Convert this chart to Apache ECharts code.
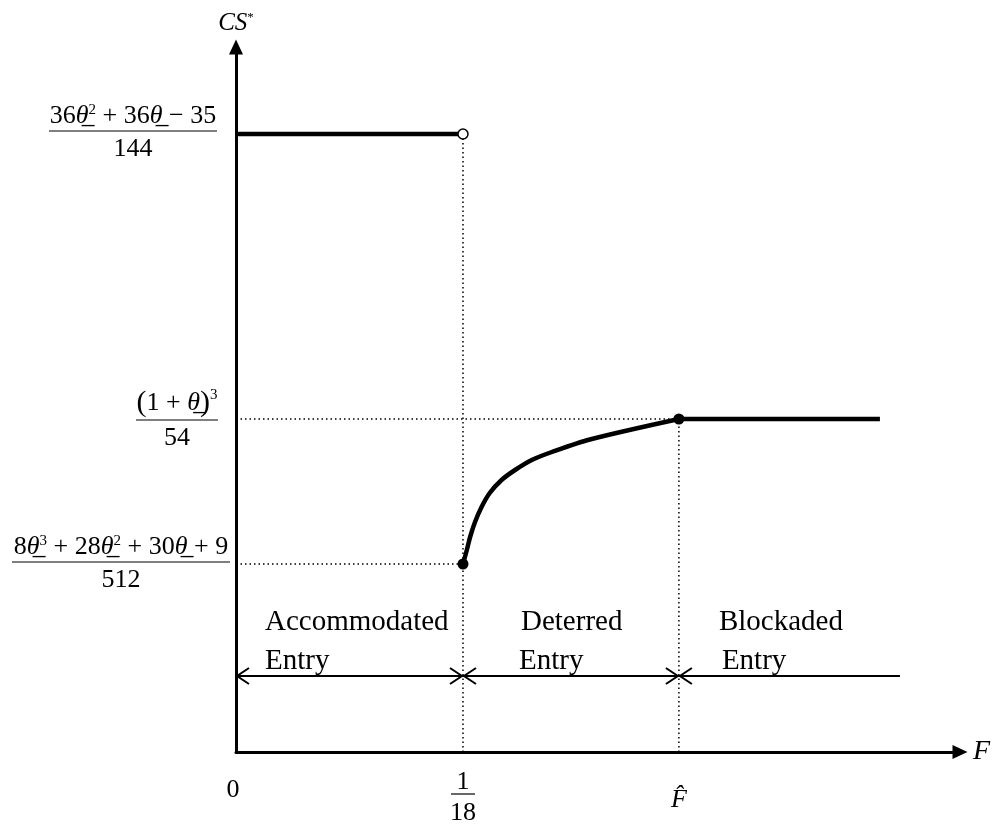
<!DOCTYPE html>
<html><head><meta charset="utf-8">
<script src="https://cdn.jsdelivr.net/npm/echarts@6/dist/echarts.min.js"></script>
<style>html,body{margin:0;padding:0;background:#fff}#c{width:994px;height:829px}</style>
</head><body><div id="c"></div>
<script>
// ---- data (schematic values) ----
const F_ACC = 1 / 18;          // threshold 1/18
const F_HAT = 0.1084;          // F-hat
const F_END = 0.1576;          // end of blockaded segment
const F_ARROW_END = 0.1625;    // end of blockaded region arrow
const CS_HIGH = 0.618;         // (36θ²+36θ−35)/144
const CS_BLOCK = 0.333;        // (1+θ)³/54
const CS_LOW = 0.188;          // (8θ³+28θ²+30θ+9)/512
const curveF  = [F_ACC, 0.0565, 0.0573, 0.0585, 0.0601, 0.0621, 0.0650, 0.0683, 0.0724, 0.0773, 0.0866, F_HAT];
const curveCS = [CS_LOW, 0.202, 0.215, 0.230, 0.245, 0.259, 0.272, 0.282, 0.292, 0.300, 0.3125, CS_BLOCK];
const yLabelValues = [CS_HIGH, CS_BLOCK, CS_LOW];
const yLabelNumerators = [
  '36{it|θ\u0332}{sup|2} + 36{it|θ\u0332} − 35',
  '{par|(}1 + {it|θ\u0332}{par|)}{sup|3}',
  '8{it|θ\u0332}{sup|3} + 28{it|θ\u0332}{sup|2} + 30{it|θ\u0332} + 9'
];
const yLabelDenominators = ['144', '54', '512'];
const xTickValues = [0, F_ACC, F_HAT];
const xTickNumerators = ['0', '1', '{it|F\u0302}'];
const xTickDenominators = ['', '18', ''];
const regionStarts = [0, F_ACC, F_HAT];
const regionEnds = [F_ACC, F_HAT, F_ARROW_END];
const regionNames = ['Accommodated', 'Deterred', 'Blockaded'];
const regionSub = ['Entry', 'Entry', 'Entry'];
const REGION_ARROW_CS = 0.076;

// ---- layout / style ----
const SERIF = '"Liberation Serif", "Times New Roman", serif';
const rich = {
  it:  { fontFamily: SERIF, fontSize: 26, fontStyle: 'italic', fill: '#000', color: '#000' },
  sup: { fontFamily: SERIF, fontSize: 15, verticalAlign: 'top', fill: '#000', color: '#000' },
  par: { fontFamily: SERIF, fontSize: 30, fill: '#000', color: '#000' }
};
const yLabelLayout = [ {gap: 19, width: 168, dy: -3}, {gap: 18, width: 82, dy: 1}, {gap: 6, width: 218, dy: -2} ];
const regionTextOffset = [ {a: 29, b: 29}, {a: 58, b: 56}, {a: 40, b: 43} ];

const chart = echarts.init(document.getElementById('c'), null, {renderer: 'canvas'});

function renderYLabel(params, api) {
  const i = params.dataIndex;
  const p = api.coord([0, api.value(1)]);
  const L = yLabelLayout[i];
  const right = p[0] - L.gap;
  const cx = right - L.width / 2;
  const by = p[1] + L.dy;
  return { type: 'group', children: [
    { type: 'line', shape: {x1: right - L.width, y1: by, x2: right, y2: by}, style: {stroke: '#000', lineWidth: 1.2} },
    { type: 'text', style: { text: yLabelNumerators[i], rich: rich, x: cx, y: by - 2, align: 'center', verticalAlign: 'bottom',
        fontFamily: SERIF, fontSize: 26, fill: '#000' } },
    { type: 'text', style: { text: yLabelDenominators[i], x: cx, y: by + 5, align: 'center', verticalAlign: 'top',
        fontFamily: SERIF, fontSize: 26, fill: '#000' } }
  ]};
}

function renderXLabel(params, api) {
  const i = params.dataIndex;
  const p = api.coord([api.value(0), 0]);
  const children = [];
  if (xTickDenominators[i]) {
    const by = p[1] + 42;
    children.push({ type: 'line', shape: {x1: p[0] - 12, y1: by, x2: p[0] + 12, y2: by}, style: {stroke: '#000', lineWidth: 1.2} });
    children.push({ type: 'text', style: { text: xTickNumerators[i], x: p[0], y: by + 1, align: 'center', verticalAlign: 'bottom', fontFamily: SERIF, fontSize: 26, fill: '#000' } });
    children.push({ type: 'text', style: { text: xTickDenominators[i], x: p[0], y: by + 6, align: 'center', verticalAlign: 'top', fontFamily: SERIF, fontSize: 26, fill: '#000' } });
  } else {
    children.push({ type: 'text', style: { text: xTickNumerators[i], rich: rich, x: p[0] - (i === 0 ? 3 : 0), y: p[1] + (i === 0 ? 38 : 48), align: 'center', verticalAlign: 'middle', fontFamily: SERIF, fontSize: 26, fill: '#000' } });
  }
  return { type: 'group', children: children };
}

function renderRegion(params, api) {
  const i = params.dataIndex;
  const a = api.coord([api.value(0), REGION_ARROW_CS]);
  const b = api.coord([api.value(1), REGION_ARROW_CS]);
  const y = a[1];
  const hl = 13, hh = 8;
  const st = {stroke: '#000', lineWidth: 2, fill: null};
  const ch = [
    { type: 'line', shape: {x1: a[0], y1: y, x2: b[0], y2: y}, style: st },
    { type: 'polyline', shape: {points: [[a[0] + hl, y - hh], [a[0] + 1, y], [a[0] + hl, y + hh]]}, style: st }
  ];
  if (i < 2) ch.push({ type: 'polyline', shape: {points: [[b[0] - hl, y - hh], [b[0] - 1, y], [b[0] - hl, y + hh]]}, style: st });
  const o = regionTextOffset[i];
  ch.push({ type: 'text', style: { text: regionNames[i], x: a[0] + o.a, y: y - 54, align: 'left', verticalAlign: 'middle', fontFamily: SERIF, fontSize: 29, fill: '#000' } });
  ch.push({ type: 'text', style: { text: regionSub[i], x: a[0] + o.b, y: y - 15, align: 'left', verticalAlign: 'middle', fontFamily: SERIF, fontSize: 29, fill: '#000' } });
  return { type: 'group', children: ch };
}

const thick = { color: '#000', width: 4.5 };
const dotted = { color: '#000', width: 1.5, type: [1.5, 3] };

chart.setOption({
  animation: false,
  backgroundColor: '#fff',
  grid: { left: 236, right: 34, top: 47, bottom: 77 },
  xAxis: {
    type: 'value', min: 0, max: 0.1772,
    axisLine: { show: true, onZero: false, symbol: ['none', 'triangle'], symbolSize: [14, 15], lineStyle: { color: '#000', width: 3 } },
    axisTick: { show: false }, axisLabel: { show: false }, splitLine: { show: false },
    name: 'F', nameLocation: 'end', nameGap: 13,
    nameTextStyle: { fontFamily: SERIF, fontStyle: 'italic', fontSize: 28, color: '#000', padding: [16, 0, 0, 0] }
  },
  yAxis: {
    type: 'value', min: 0, max: 0.705,
    axisLine: { show: true, onZero: false, symbol: ['none', 'triangle'], symbolSize: [14, 15], lineStyle: { color: '#000', width: 3 } },
    axisTick: { show: false }, axisLabel: { show: false }, splitLine: { show: false },
    name: '{a|CS}{s|*}', nameLocation: 'end', nameGap: 11,
    nameTextStyle: { rich: {
      a: { fontFamily: SERIF, fontStyle: 'italic', fontSize: 25, color: '#000' },
      s: { fontFamily: SERIF, fontSize: 13, color: '#000', verticalAlign: 'top' } } }
  },
  series: [
    { type: 'line', data: [[F_ACC, 0], [F_ACC, CS_HIGH]], symbol: 'none', lineStyle: dotted, z: 1 },
    { type: 'line', data: [[F_HAT, 0], [F_HAT, CS_BLOCK]], symbol: 'none', lineStyle: dotted, z: 1 },
    { type: 'line', data: [[0, CS_BLOCK], [F_HAT, CS_BLOCK]], symbol: 'none', lineStyle: dotted, z: 1 },
    { type: 'line', data: [[0, CS_LOW], [F_ACC, CS_LOW]], symbol: 'none', lineStyle: dotted, z: 1 },
    { type: 'line', data: [[0, CS_HIGH], [F_ACC, CS_HIGH]], symbol: 'none', lineStyle: thick, z: 3 },
    { type: 'line', data: curveF.map((f, k) => [f, curveCS[k]]), smooth: 0.3, symbol: 'none', lineStyle: thick, z: 3 },
    { type: 'line', data: [[F_HAT, CS_BLOCK], [F_END, CS_BLOCK]], symbol: 'none', lineStyle: thick, z: 3 },
    { type: 'scatter', data: [[F_ACC, CS_HIGH]], symbol: 'circle', symbolSize: 10,
      itemStyle: { color: '#fff', borderColor: '#000', borderWidth: 1.5, opacity: 1 }, z: 5 },
    { type: 'scatter', data: [[F_ACC, CS_LOW], [F_HAT, CS_BLOCK]], symbol: 'circle', symbolSize: 11,
      itemStyle: { color: '#000', opacity: 1 }, z: 5 },
    { type: 'custom', clip: false, silent: true, data: yLabelValues.map(v => [0, v]), renderItem: renderYLabel, z: 6 },
    { type: 'custom', clip: false, silent: true, data: xTickValues.map(v => [v, 0]), renderItem: renderXLabel, z: 6 },
    { type: 'custom', clip: false, silent: true, data: regionStarts.map((s, k) => [s, regionEnds[k]]), renderItem: renderRegion, z: 6 }
  ]
});
</script></body></html>
